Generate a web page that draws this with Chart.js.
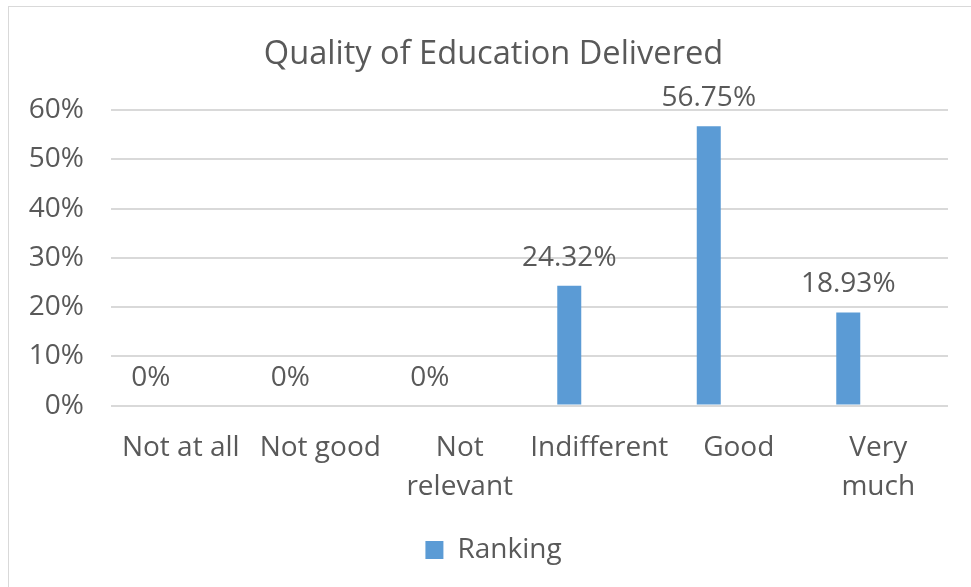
<!DOCTYPE html>
<html>
<head>
<meta charset="utf-8">
<script src="https://cdn.jsdelivr.net/npm/chart.js@4.4.0/dist/chart.umd.min.js"></script>
<style>
  html, body { margin: 0; padding: 0; background: #fff; overflow: hidden; }
  #frame { position: absolute; left: 8px; top: 6px; width: 990px; height: 620px; border: 1px solid #d9d9d9; }
  #wrap { position: absolute; left: 0; top: 0; width: 971px; height: 587px; }
</style>
</head>
<body>
<div id="frame"></div>
<div id="wrap"><canvas id="myChart"></canvas></div>
<script>
// Datos del gráfico
const categorias = [["Not at all"], ["Not good"], ["Not", "relevant"], ["Indifferent"], ["Good"], ["Very", "much"]];
const ranking = [0, 0, 0, 24.32, 56.75, 18.93];
const ticksY = [0, 10, 20, 30, 40, 50, 60];

const colorTexto = "#595959";
const fuente = "'Open Sans', 'Liberation Sans', sans-serif";

// Etiquetas de valor sobre cada barra
const etiquetasValor = {
    id: "etiquetasValor",
    afterLayout(chart) {
        // ampliar la zona de recorte del eje Y para que no corte las etiquetas
        chart.scales.y.left = 20;
    },
    afterDatasetsDraw(chart) {
        const ctx = chart.ctx;
        const meta = chart.getDatasetMeta(0);
        ctx.save();
        ctx.font = "28px " + fuente;
        ctx.fillStyle = colorTexto;
        ctx.textAlign = "center";
        ctx.textBaseline = "middle";
        meta.data.forEach((bar, i) => {
            const v = ranking[i];
            const txt = v === 0 ? "0%" : v.toFixed(2) + "%";
            ctx.fillText(txt, bar.x, bar.y - 28);
        });
        ctx.restore();
    }
};

const ctx = document.getElementById("myChart").getContext("2d");
let myChart = new Chart(ctx, {
    type: "bar",
    data: {
        labels: categorias,
        datasets: [
            {
                label: "Ranking",
                data: ranking,
                backgroundColor: "#5b9bd5",
                borderWidth: 0,
                barPercentage: 0.4,
                categoryPercentage: 0.86,
            },
            {
                label: "",
                data: ranking.map(() => null),
                backgroundColor: "rgba(0,0,0,0)",
                barPercentage: 0.4,
                categoryPercentage: 0.86,
            }
        ],
    },
    options: {
        responsive: true,
        maintainAspectRatio: false,
        animation: false,
        layout: {
            padding: { left: 39, right: 23, top: 35, bottom: 13 },
        },
        plugins: {
            title: {
                display: true,
                text: "Quality of Education Delivered",
                color: colorTexto,
                font: { family: fuente, size: 32.6, weight: "normal" },
                padding: { top: 0, bottom: 36 },
            },
            legend: {
                position: "bottom",
                labels: {
                    filter: (item) => item.datasetIndex === 0,
                    color: colorTexto,
                    font: { family: fuente, size: 28 },
                    boxWidth: 18,
                    boxHeight: 18,
                    padding: 10,
                },
            },
            tooltip: { enabled: false },
        },
        scales: {
            x: {
                grid: { display: false },
                border: { display: false },
                afterFit: (scale) => { scale.height += 4; },
                ticks: {
                    color: colorTexto,
                    font: { family: fuente, size: 28, lineHeight: 1.4 },
                    maxRotation: 0,
                    autoSkip: false,
                    padding: 15,
                },
            },
            y: {
                min: 0,
                max: 60,
                afterBuildTicks: (axis) => { axis.ticks = ticksY.map(v => ({ value: v })); },
                afterFit: (scale) => { scale.width = 72; },
                grid: { color: "#d9d9d9", lineWidth: 2, drawTicks: false },
                border: { display: false },
                ticks: {
                    color: colorTexto,
                    font: { family: fuente, size: 28 },
                    padding: 27,
                    callback: (v) => v + "%",
                },
            },
        },
    },
    plugins: [etiquetasValor],
});
</script>
</body>
</html>
